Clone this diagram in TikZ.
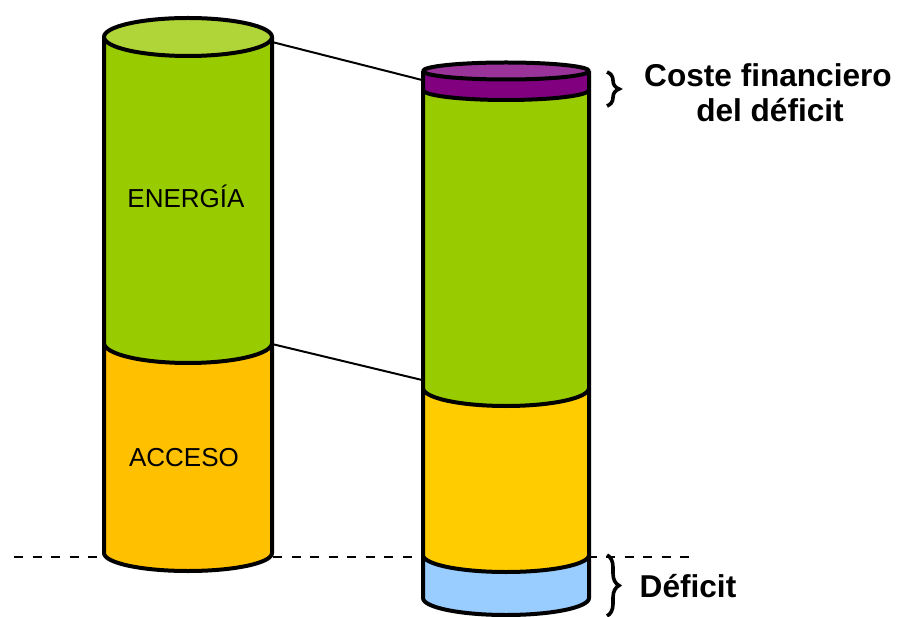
\documentclass[tikz,border=0pt]{standalone}
\usepackage{fontspec}
\setmainfont{Liberation Sans}
\usetikzlibrary{decorations.pathreplacing}
\definecolor{capgreen}{HTML}{B0D538}
\definecolor{bodygreen}{HTML}{99CC00}
\definecolor{accorange}{HTML}{FFC000}
\definecolor{accyellow}{HTML}{FFCC00}
\definecolor{cappurple}{HTML}{993399}
\definecolor{bandpurple}{HTML}{800080}
\definecolor{defblue}{HTML}{99CCFF}
\newcommand\cylband[6]{%
  \filldraw[cylline, fill=#6] (#1-#2,-#3) -- (#1-#2,-#4)
    arc[start angle=180, end angle=360, x radius=#2, y radius=#5] -- (#1+#2,-#3);%
}
\newcommand\cylcap[5]{%
  \filldraw[cylline, fill=#5] (#1,-#3) ellipse [x radius=#2, y radius=#4];%
}
\begin{document}
\begin{tikzpicture}[x=1pt, y=1pt,
  cylline/.style={line width=4pt, line join=round, draw=black},
  linker/.style={line width=2pt, draw=black},
  levelline/.style={line width=2.2pt, dash pattern=on 9pt off 9.5pt},
  bracedeco/.style={decorate, decoration={brace, amplitude=12pt}, line width=3.6pt},
  lbl/.style={font=\fontsize{26}{30}\selectfont, anchor=base, inner sep=0pt},
  blbl/.style={font=\bfseries\fontsize{31.6}{36}\selectfont, anchor=base, inner sep=0pt}]
\useasboundingbox (0,0) rectangle (901,-617);

% reference level (dashed) and connector lines, behind cylinders
\coordinate (d1) at (14,-557);
\coordinate (d2) at (692,-557);
\draw[levelline] (d1) -- (d2);
\coordinate (Ltop) at (272,-42);
\coordinate (Rtop) at (422,-80);
\coordinate (Lmid) at (272,-344);
\coordinate (Rmid) at (422,-380);
\draw[linker] (Ltop) -- (Rtop);
\draw[linker] (Lmid) -- (Rmid);

% left cylinder
\cylband{188}{84}{343}{553}{18}{accorange}
\cylband{188}{84}{37}{343}{20}{bodygreen}
\cylcap{188}{84}{37}{19}{capgreen}

% right cylinder
\cylband{506}{83}{555}{598}{17}{defblue}
\cylband{506}{83}{388}{555}{17}{accyellow}
\cylband{506}{83}{90}{388}{18}{bodygreen}
\cylband{506}{83}{71}{90}{10}{bandpurple}
\cylcap{506}{83}{71}{8.5}{cappurple}

% labels
\node[lbl] (energia) at (186,-208) {ENERGÍA};
\node[lbl] (acceso) at (184,-466) {ACCESO};

% braces and their texts
\coordinate (b1a) at (607,-72);
\coordinate (b1b) at (607,-106);
\draw[bracedeco] (b1a) -- (b1b);
\coordinate (b2a) at (607,-555);
\coordinate (b2b) at (607,-616);
\draw[bracedeco] (b2a) -- (b2b);
\node[blbl] (cf1) at (768,-87) {Coste financiero};
\node[blbl] (cf2) at (770,-122) {del déficit};
\node[blbl] (def) at (688,-597) {Déficit};
\end{tikzpicture}
\end{document}
